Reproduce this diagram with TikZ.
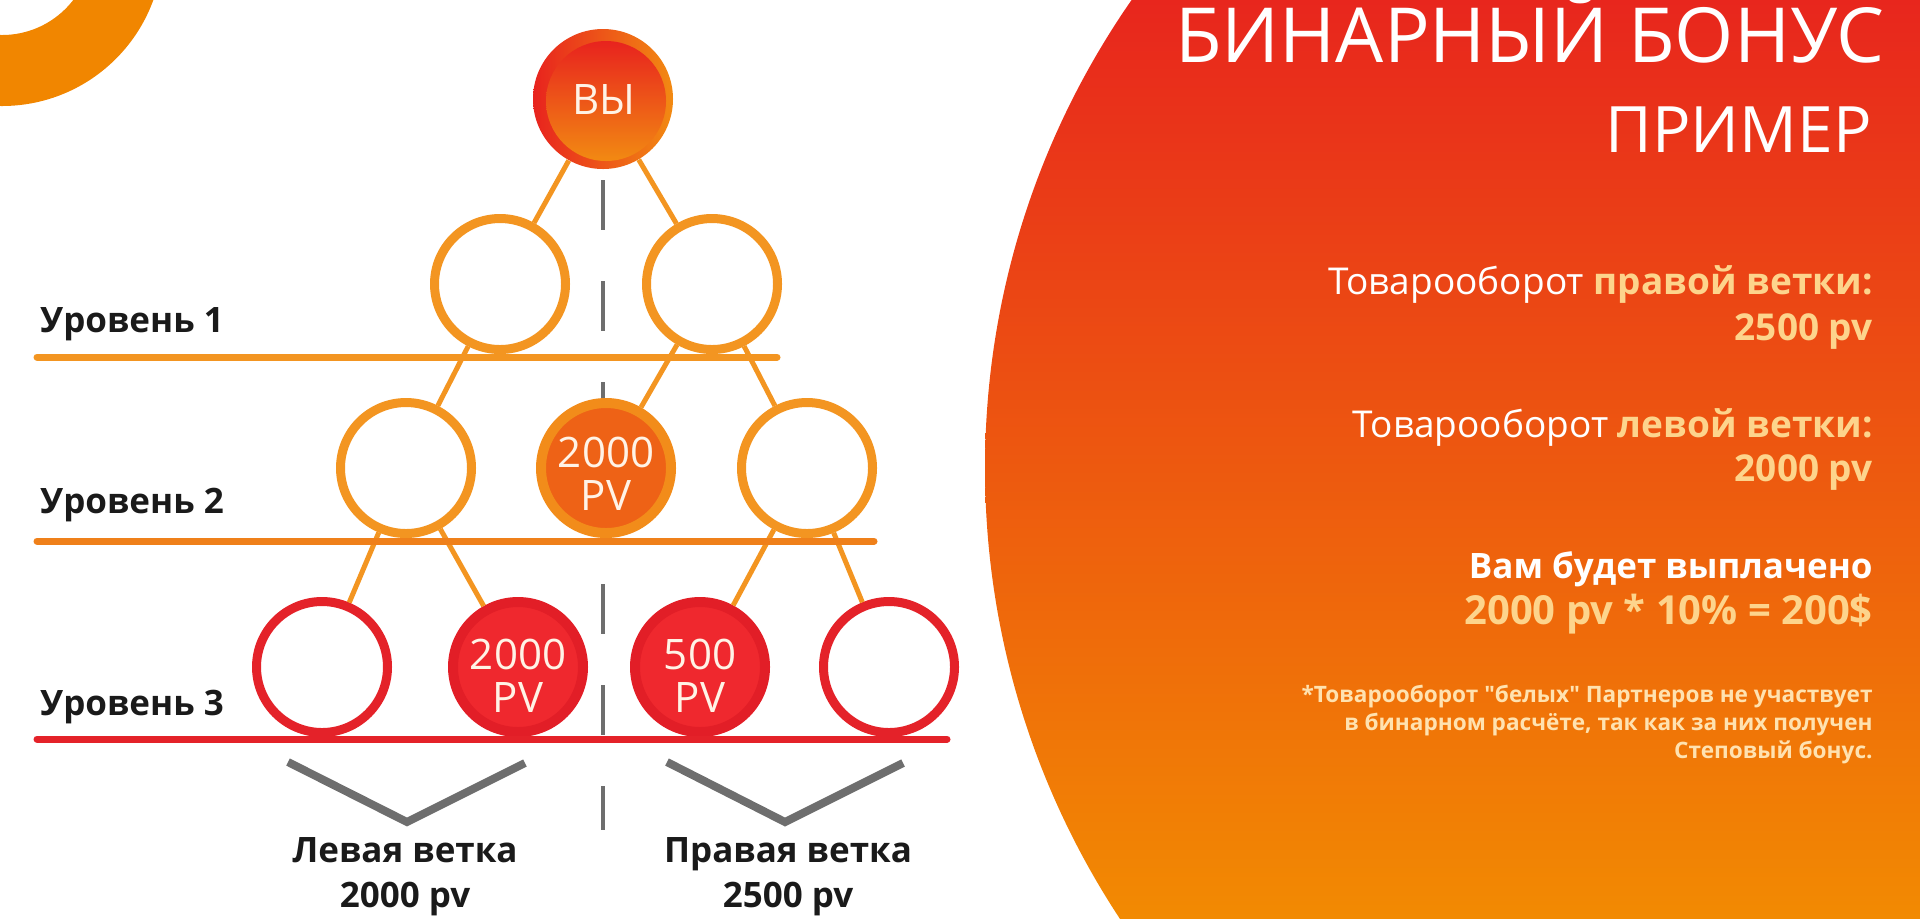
\documentclass[tikz,border=0pt]{standalone}
\usepackage{fontspec}
\setmainfont[Ligatures=TeXOff]{Open Sans}
\usetikzlibrary{positioning}

\definecolor{treeorange}{HTML}{F39521}
\definecolor{lineorange}{HTML}{EF801A}
\definecolor{treered}{HTML}{E42229}
\definecolor{midrim}{HTML}{F28C1A}
\definecolor{midfill}{HTML}{EE6216}
\definecolor{lowrim}{HTML}{E21E27}
\definecolor{lowfill}{HTML}{EF282E}
\definecolor{youtop}{HTML}{E8231E}
\definecolor{youbot}{HTML}{F28A12}
\definecolor{bgtop}{HTML}{E8261D}
\definecolor{bgbot}{HTML}{F28A02}
\definecolor{ringcol}{HTML}{F18600}
\definecolor{peach}{HTML}{FDD48C}
\definecolor{cream}{HTML}{FFE2B0}
\definecolor{greyline}{HTML}{6E6E6E}
\definecolor{nodetext}{HTML}{FFF3E6}
\definecolor{inktext}{HTML}{1A1A1A}

\begin{document}
\begin{tikzpicture}[x=0.5pt,y=-0.5pt]

\tikzset{member/.style = {shape=circle,draw=treeorange,fill=white,line width=4.5pt,minimum size=65.5pt,inner sep=0pt}}
\tikzset{lowmember/.style = {member,draw=treered}}
\tikzset{midactive/.style = {member,draw=midrim,fill=midfill,line width=5pt,minimum size=65pt}}
\tikzset{lowactive/.style = {midactive,draw=lowrim,fill=lowfill}}
\tikzset{youdisk/.style = {shape=circle,left color=youtop,right color=youbot,minimum size=70pt,inner sep=0pt}}
\tikzset{pvtext/.style = {text=nodetext,align=center,inner sep=0pt,font=\fontsize{21}{21.5}\selectfont}}
\tikzset{link/.style = {draw=treeorange,line width=2.5pt}}
\tikzset{levelname/.style = {anchor=base west,inner sep=0pt,text=inktext,font=\fontsize{17.5}{21}\selectfont\bfseries}}
\tikzset{branchname/.style = {anchor=base,inner sep=0pt,text=inktext,font=\fontsize{17.5}{21}\selectfont\bfseries}}
\tikzset{infotext/.style = {anchor=base east,inner sep=0pt,text=white,font=\fontsize{18.5}{22}\selectfont}}
\tikzset{notetext/.style = {anchor=base east,inner sep=0pt,text=cream,font=\fontsize{11.3}{14}\selectfont\bfseries}}

\useasboundingbox (0,0) rectangle (1920,918);

% background
\draw[ringcol,line width=35.5pt] (2,-55) circle[radius=125.5];
\begin{scope}
\clip (1805,468) circle[radius=820];
\shade[top color=bgtop,bottom color=bgbot] (960,0) rectangle (1920,918);
\end{scope}

% middle split and branch marks
\draw[greyline,line width=2pt,dash pattern=on 25pt off 25.5pt] (603,180) -- (603,830);
\draw[greyline,line width=4pt] (288,762) -- (407,822) -- (525,763);
\draw[greyline,line width=4pt] (667,762) -- (785,822) -- (903,763);

% members
\node[youdisk] (you) at (603,99) {};
\shade[top color=youtop,bottom color=youbot] (606,101) circle[radius=60];
\node[pvtext] (youtext) at (604,99) {ВЫ};

\node[member] (l1a) at (500,284) {};
\node[member] (l1b) at (712,284) {};

\node[member] (l2a) at (406,468) {};
\node[midactive] (l2b) at (606,468) {};
\node[member] (l2c) at (807,468) {};

\node[lowmember] (l3a) at (322,667) {};
\node[lowactive] (l3b) at (518,667) {};
\node[lowactive] (l3c) at (700,667) {};
\node[lowmember] (l3d) at (889,667) {};

\node[pvtext] (l2bpv) at (606,474) {2000\\PV};
\node[pvtext] (l3bpv) at (518,676) {2000\\PV};
\node[pvtext] (l3cpv) at (700,676) {500\\PV};

% links
\path[link] (you) -- (l1a);
\path[link] (you) -- (l1b);
\path[link] (l1a) -- (l2a);
\path[link] (l1b) -- (l2b);
\path[link] (l1b) -- (l2c);
\path[link] (l2a) -- (l3a);
\path[link] (l2a) -- (l3b);
\path[link] (l2c) -- (l3c);
\path[link] (l2c) -- (l3d);

% levels
\draw[treeorange,line width=3.5pt,line cap=round] (37,357) -- (777,357);
\draw[lineorange,line width=3.5pt,line cap=round] (37,541) -- (874,541);
\draw[treered,line width=3.5pt,line cap=round] (37,739) -- (947,739);

\node[levelname] (lev1) at (40,332) {Уровень 1};
\node[levelname] (lev2) at (40,513) {Уровень 2};
\node[levelname] (lev3) at (40,715) {Уровень 3};

\node[branchname] (leftbranch) at (405,862) {Левая ветка};
\node[branchname] (leftsum) at (405,907) {2000 pv};
\node[branchname] (rightbranch) at (788,862) {Правая ветка};
\node[branchname] (rightsum) at (788,907) {2500 pv};

% right panel
\node[infotext,font=\fontsize{38}{40}\selectfont] (title) at (1885,62) {БИНАРНЫЙ БОНУС};
\node[infotext,font=\fontsize{32}{36}\selectfont] (subtitle) at (1872,152) {ПРИМЕР};

\node[infotext] (rightturn) at (1873,294) {Товарооборот \textcolor{peach}{\bfseries правой ветки:}};
\node[infotext,text=peach,font=\fontsize{18.5}{22}\selectfont\bfseries] (rightval) at (1873,340) {2500 pv};
\node[infotext] (leftturn) at (1873,437) {Товарооборот \textcolor{peach}{\bfseries левой ветки:}};
\node[infotext,text=peach,font=\fontsize{18.5}{22}\selectfont\bfseries] (leftval) at (1873,481) {2000 pv};
\node[infotext,font=\fontsize{17.5}{21}\selectfont\bfseries] (payout) at (1873,578) {Вам будет выплачено};
\node[infotext,text=peach,font=\fontsize{20}{24}\selectfont\bfseries] (payval) at (1873,624) {2000 pv * 10\% = 200\$};

\node[notetext] (note1) at (1873,702) {*Товарооборот "белых" Партнеров не участвует};
\node[notetext] (note2) at (1873,730) {в бинарном расчёте, так как за них получен};
\node[notetext] (note3) at (1873,758) {Степовый бонус.};

\end{tikzpicture}
\end{document}
